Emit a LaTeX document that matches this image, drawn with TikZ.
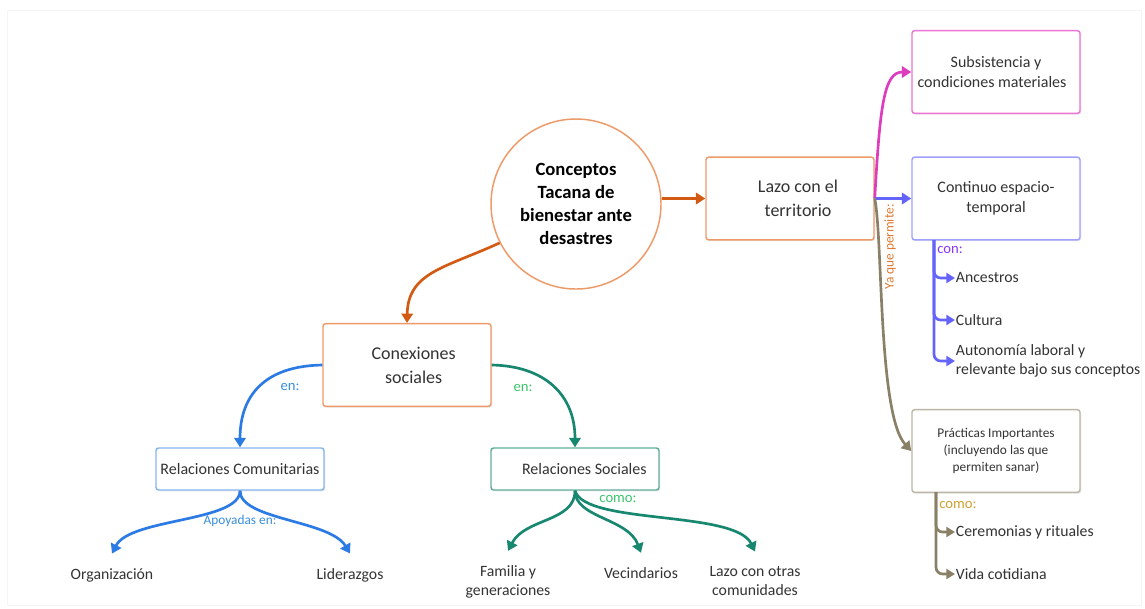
\documentclass[tikz,border=0pt]{standalone}
\usepackage{fontspec}
\setmainfont{Carlito}
\usetikzlibrary{arrows.meta,shadows}
\definecolor{txt}{HTML}{333333}
\definecolor{orbord}{HTML}{EE9A68}
\definecolor{orarr}{HTML}{D25A12}
\definecolor{blarr}{HTML}{2C7BE5}
\definecolor{blbord}{HTML}{86B6F2}
\definecolor{bllab}{HTML}{3A8EDB}
\definecolor{tlarr}{HTML}{17876F}
\definecolor{tlbord}{HTML}{62AE9C}
\definecolor{grlab}{HTML}{3CC46C}
\definecolor{magarr}{HTML}{DE3CBE}
\definecolor{magbord}{HTML}{EE74D6}
\definecolor{viarr}{HTML}{6464FA}
\definecolor{vibord}{HTML}{A0A0FF}
\definecolor{vilab}{HTML}{8A36FA}
\definecolor{brarr}{HTML}{8A8068}
\definecolor{brbord}{HTML}{BDB5A5}
\definecolor{goldlab}{HTML}{D0A030}
\definecolor{yqlab}{HTML}{E07A30}
\newcommand\szTitle{\fontsize{14}{17.3}\selectfont}
\newcommand\szMain{\fontsize{13.5}{18}\selectfont}
\newcommand\szMid{\fontsize{12}{15}\selectfont}
\newcommand\szLeaf{\fontsize{11.8}{14.5}\selectfont}
\newcommand\szSmall{\fontsize{10}{12.5}\selectfont}
\newcommand\szLab{\fontsize{11}{13}\selectfont}
\tikzset{
  box/.style={draw, line width=1.1pt, rounded corners=2pt, fill=white, align=center,
    text=txt, minimum width=126pt, inner sep=2pt,
    drop shadow={shadow xshift=1pt, shadow yshift=-1pt, opacity=0.18, fill=black!50}},
  bigbox/.style={box, minimum height=62pt},
  thinbox/.style={box, minimum height=31.5pt},
  conn/.style={line width=2pt, -{Triangle[length=7pt,width=8.5pt]}},
  lconn/.style={line width=2pt, rounded corners=5pt, -{Triangle[length=6.5pt,width=7.5pt]}},
  leaf/.style={align=center, text=txt, font=\szLeaf, inner sep=0pt, outer ysep=11pt},
  item/.style={anchor=west, align=left, text=txt, font=\szLeaf, inner sep=0.5pt},
  lab/.style={font=\szLab, inner sep=0pt}
}
\begin{document}
\begin{tikzpicture}[x=0.75pt,y=-0.75pt]
\useasboundingbox (0,0) rectangle (1145,608);
\fill[white] (0,0) rectangle (1145,608);
\draw[black!4, line width=0.6pt] (7,10) rectangle (1141,605);

% main nodes
\node[circle, draw=orbord, line width=1.1pt, minimum size=127.5pt, align=center,
  font=\szTitle\bfseries, text=black, inner sep=0pt] (circ) at (576,204)
  {Conceptos\\Tacana de\\bienestar ante\\desastres};
\node[bigbox, draw=orbord, font=\szMain] (lazo) at (790,198.5) {\hspace*{12pt}Lazo con el\\\hspace*{12pt}territorio};
\node[bigbox, draw=magbord, font=\szMid] (sub) at (996,72) {Subsistencia y\\condiciones materiales\hspace*{6pt}};
\node[bigbox, draw=vibord, font=\szMid] (cont) at (996,198.5) {Continuo espacio-\\temporal};
\node[bigbox, draw=brbord, font=\szSmall] (prac) at (996,451) {Prácticas Importantes\\(incluyendo las que\\permiten sanar)};
\node[bigbox, draw=orbord, font=\szMain] (conx) at (407,365) {\hspace*{10pt}Conexiones\\\hspace*{10pt}sociales};
\node[thinbox, draw=blbord, font=\szMid] (rc) at (240,469) {Relaciones Comunitarias};
\node[thinbox, draw=tlbord, font=\szMid] (rs) at (575,469) {\hspace*{14pt}Relaciones Sociales};

% leaves
\node[leaf] (org) at (112,575) {Organización};
\node[leaf] (lid) at (350,575) {Liderazgos};
\node[leaf] (fam) at (508,582) {Familia y\\generaciones};
\node[leaf] (vec) at (641,573) {Vecindarios};
\node[leaf] (lzo) at (755,581) {Lazo con otras\\comunidades};

\node[item] (anc) at (955,278) {Ancestros};
\node[item] (cul) at (955,320) {Cultura};
\node[item] (aut) at (955,361) {Autonomía laboral y\\relevante bajo sus conceptos};
\node[item] (cer) at (955,532) {Ceremonias y rituales};
\node[item] (vid) at (955,574) {Vida cotidiana};

\coordinate (cb) at (934,240);
\coordinate (pb) at (936,492);

% connectors: center
\draw[conn, orarr] (lazo.west -| circ.east) -- (lazo.west);
\draw[conn, orarr] (circ.207) .. controls (445,268) and (408,272) .. (conx.north);

% lazo branches
\draw[conn, magarr] (lazo.east) .. controls (880,105) and (884,72) .. (sub.west);
\draw[conn, viarr] (lazo.east) -- (lazo.east -| cont.west);
\draw[conn, brarr] (lazo.east) .. controls (883,240) and (878,415) .. (prac.west);
\node[lab, font=\szSmall, text=yqlab, rotate=90] (yq) at (890,247) {Ya que permite:};

% continuo list
\draw[lconn, viarr] (cb) |- (anc.west);
\draw[lconn, viarr] (cb) |- (cul.west);
\draw[lconn, viarr] (cb) |- (aut.west);
\node[lab, text=vilab, anchor=west] (con) at (937,250) {con:};

% practicas list
\draw[lconn, brarr] (pb) |- (cer.west);
\draw[lconn, brarr] (pb) |- (vid.west);
\node[lab, text=goldlab, anchor=west] (como2) at (939,505) {como:};

% conexiones branches
\draw[conn, blarr] (conx.west) .. controls (265,366) and (240,395) .. (rc.north);
\draw[conn, tlarr] (conx.east) .. controls (545,366) and (575,395) .. (rs.north);
\node[lab, text=bllab] (en1) at (290,387) {en:};
\node[lab, text=grlab] (en2) at (523,388) {en:};

% relaciones comunitarias
\draw[conn, blarr] (rc.south) .. controls (240,522) and (130,518) .. (org.north);
\draw[conn, blarr] (rc.south) .. controls (240,520) and (330,520) .. (lid.north);
\node[lab, font=\szSmall, text=bllab] (apo) at (240,521) {Apoyadas en:};

% relaciones sociales
\draw[conn, tlarr] (rs.south) .. controls (575,522) and (525,518) .. (fam.north);
\draw[conn, tlarr] (rs.south) .. controls (575,518) and (628,518) .. (vec.north);
\draw[conn, tlarr] (rs.south) .. controls (585,525) and (735,510) .. (lzo.north);
\node[lab, text=grlab] (como1) at (618,499) {como:};
\end{tikzpicture}
\end{document}
